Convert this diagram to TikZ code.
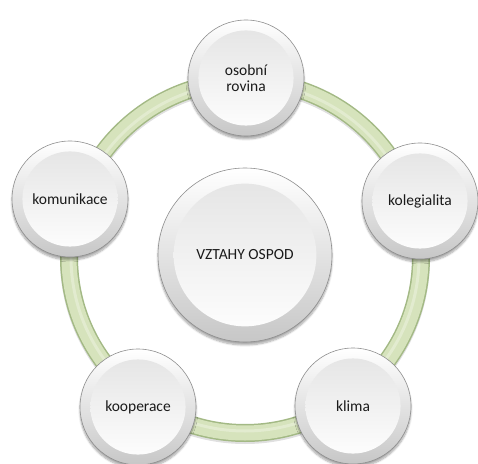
\documentclass[tikz,border=0pt]{standalone}
\usepackage{fontspec}
\setmainfont{Carlito}
\usetikzlibrary{positioning, shadows, shadows.blur}
\definecolor{ringFill}{HTML}{D6E3BC}
\definecolor{ringEdge}{HTML}{A3B985}
\definecolor{ringLight}{HTML}{E2EBCF}
\definecolor{bubbleEdge}{HTML}{8E8E8E}
\definecolor{labelText}{HTML}{1A1A1A}

\begin{document}
\begin{tikzpicture}[x=1pt, y=1pt,
	bubble/.style={circle, draw=bubbleEdge, line width=0.6pt, minimum size=#1, inner sep=0pt,
		align=center, text=labelText, font=\fontsize{15.5}{15.5}\selectfont,
		top color=white, bottom color=black!22,
		blur shadow={shadow xshift=0pt, shadow yshift=-3pt, shadow opacity=35, shadow blur steps=8},
		path picture={\shade[top color=black!11, bottom color=white]
			(path picture bounding box.center) circle (0.41*#1);}},
	bubble/.default=116pt]
	
	\useasboundingbox (0,0) rectangle (478,463);
	
	%Ring
	\coordinate (ringCenter) at (245,206);
	\draw[line width=18pt, black, opacity=0.12] ([yshift=-2pt]ringCenter) circle (176);
	\draw[line width=18pt, ringEdge] (ringCenter) circle (176);
	\draw[line width=15pt, ringFill] (ringCenter) circle (176);
	\draw[line width=3pt, ringLight] (ringCenter) circle (174);
	
	%Centre
	\node (vztahy) at (245,208) [bubble=174pt]{VZTAHY OSPOD};
	
	%Outer bubbles
	\node (osobniRovina) at (246,385) [bubble]{osobní\\rovina};
	\node (kolegialita) at (420,262) [bubble]{kolegialita};
	\node (klima) at (353,57) [bubble]{klima};
	\node (kooperace) at (138,56) [bubble]{kooperace};
	\node (komunikace) at (70,264) [bubble]{komunikace};
	
\end{tikzpicture}
\end{document}
